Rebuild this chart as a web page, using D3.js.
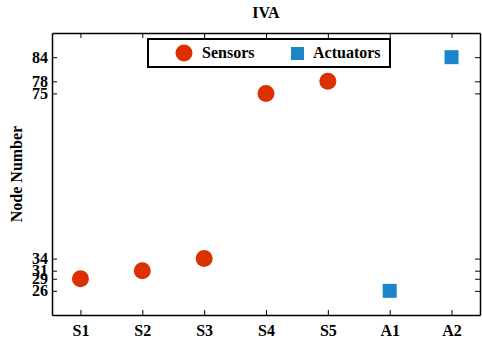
<!DOCTYPE html>
<html>
<head>
<meta charset="utf-8">
<script src="https://cdn.jsdelivr.net/npm/d3@7"></script>
<style>
  body { margin: 0; background: #fff; }
  svg { display: block; font-family: "Liberation Serif", "DejaVu Serif", serif; }
</style>
</head>
<body>
<div id="chart"></div>
<script>
// data
const nodes = ["S1", "S2", "S3", "S4", "S5", "A1", "A2"];
const sensorNodes = ["S1", "S2", "S3", "S4", "S5"];
const sensorValues = [29, 31, 34, 75, 78];
const actuatorNodes = ["A1", "A2"];
const actuatorValues = [26, 84];
const yTicks = [26, 29, 31, 34, 75, 78, 84];

const width = 482, height = 338;
const margin = { top: 33, right: 2, bottom: 23, left: 52 };
const red = "#dc3000", blue = "#1a86c9";

const svg = d3.select("#chart").append("svg")
  .attr("width", width)
  .attr("height", height);

const x = d3.scalePoint()
  .domain(nodes)
  .range([margin.left, width - margin.right])
  .padding(0.46);

const y = d3.scaleLinear()
  .domain([20, 90])
  .range([height - margin.bottom, margin.top]);

// axes, ticks pointing inward
const axes = [
  { ax: d3.axisBottom(x), tr: `translate(0,${height - margin.bottom})`, labels: true, pos: "bottom" },
  { ax: d3.axisTop(x), tr: `translate(0,${margin.top})`, labels: false },
  { ax: d3.axisLeft(y).tickValues(yTicks), tr: `translate(${margin.left},0)`, labels: true, pos: "left" },
  { ax: d3.axisRight(y).tickValues(yTicks), tr: `translate(${width - margin.right},0)`, labels: false }
];
axes.forEach(a => {
  const g = svg.append("g").attr("transform", a.tr)
    .call(a.ax.tickSizeInner(-5).tickSizeOuter(0));
  g.select(".domain").attr("stroke", "#000").attr("stroke-width", 1.5);
  g.selectAll(".tick line").attr("stroke", "#000");
  const t = g.selectAll(".tick text")
    .style("font-family", "Liberation Serif, serif")
    .style("font-size", "16px")
    .style("font-weight", "bold")
    .attr("fill", "#000");
  if (!a.labels) t.remove();
  if (a.pos === "bottom") t.attr("y", 10);
  if (a.pos === "left") t.attr("x", -4);
});

// title
svg.append("text")
  .attr("x", (margin.left + width - margin.right) / 2)
  .attr("y", 18)
  .attr("text-anchor", "middle")
  .style("font-size", "16px")
  .style("font-weight", "bold")
  .text("IVA");

// y label
svg.append("text")
  .attr("transform", `translate(22,${(margin.top + height - margin.bottom) / 2}) rotate(-90)`)
  .attr("text-anchor", "middle")
  .style("font-size", "16px")
  .style("font-weight", "bold")
  .text("Node Number");

// sensors
svg.selectAll(".sensor")
  .data(sensorNodes)
  .enter().append("circle")
  .attr("class", "sensor")
  .attr("cx", d => x(d))
  .attr("cy", (d, i) => y(sensorValues[i]))
  .attr("r", 8.5)
  .attr("fill", red);

// actuators
svg.selectAll(".actuator")
  .data(actuatorNodes)
  .enter().append("rect")
  .attr("class", "actuator")
  .attr("x", d => x(d) - 7)
  .attr("y", (d, i) => y(actuatorValues[i]) - 7)
  .attr("width", 14)
  .attr("height", 14)
  .attr("fill", blue);

// legend
const legend = svg.append("g").attr("transform", "translate(148,39)");
legend.append("rect")
  .attr("width", 242).attr("height", 28)
  .attr("fill", "#fff").attr("stroke", "#000").attr("stroke-width", 2);
legend.append("circle").attr("cx", 36).attr("cy", 14).attr("r", 8.5).attr("fill", red);
legend.append("text").attr("x", 54).attr("y", 19).style("font-size", "16px").style("font-weight", "bold").text("Sensors");
legend.append("rect").attr("x", 143).attr("y", 8).attr("width", 13).attr("height", 13).attr("fill", blue);
legend.append("text").attr("x", 165).attr("y", 19).style("font-size", "16px").style("font-weight", "bold").text("Actuators");
</script>
</body>
</html>
